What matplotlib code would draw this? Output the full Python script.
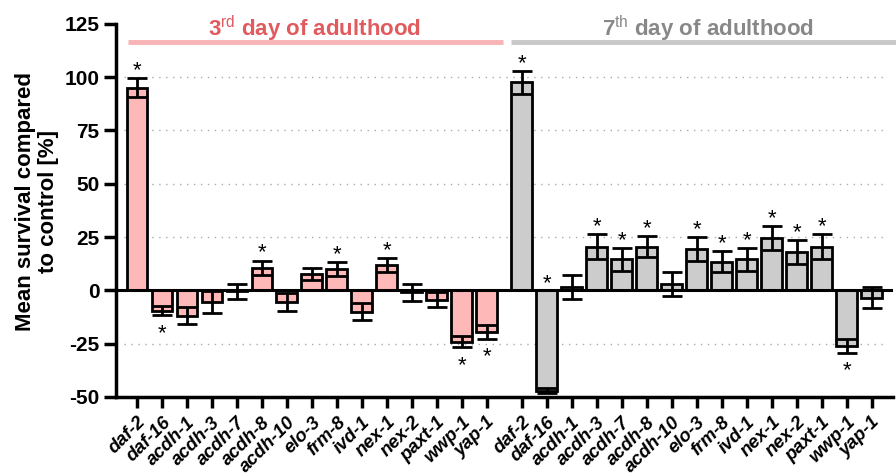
import numpy as np
import matplotlib
matplotlib.use("Agg")
import matplotlib.pyplot as plt

plt.rcParams['font.family'] = 'Liberation Sans'
plt.rcParams['axes.unicode_minus'] = False
plt.rcParams['mathtext.fontset'] = 'custom'
plt.rcParams['mathtext.rm'] = 'Liberation Sans'
plt.rcParams['mathtext.bf'] = 'Liberation Sans:bold'

genes = ['daf-2', 'daf-16', 'acdh-1', 'acdh-3', 'acdh-7', 'acdh-8', 'acdh-10',
         'elo-3', 'frm-8', 'ivd-1', 'nex-1', 'nex-2', 'paxt-1', 'wwp-1', 'yap-1']

# day 3 of adulthood
day3_mean = [95, -9.5, -12, -5.5, -0.5, 10.5, -5.5, 7.5, 10, -10, 12, -1, -4.5, -24, -19.5]
day3_err = [4.5, 2.2, 4, 5, 3.5, 3.5, 4.2, 2.8, 3.2, 4, 3.3, 4, 3.5, 2.7, 3.2]
day3_sig = [1, 1, 0, 0, 0, 1, 0, 0, 1, 0, 1, 0, 0, 1, 1]

# day 7 of adulthood
day7_mean = [97.5, -47, 1.5, 20.5, 14.5, 20.5, 3, 19.5, 13.5, 14.5, 24.5, 18, 20.5, -26, -3.5]
day7_err = [5.3, 1, 5.7, 5.7, 5.4, 5, 5.5, 5.6, 5, 5.3, 5.5, 5.7, 5.7, 3.3, 5]
day7_sig = [1, 1, 0, 1, 1, 1, 0, 1, 1, 1, 1, 1, 1, 1, 0]

pink = '#FFB8B8'
grey = '#CCCCCC'

fig = plt.figure(figsize=(8.96, 4.76), dpi=100)
ax = fig.add_axes([0.1295, 0.166, 0.867, 0.784])

x3 = np.arange(len(genes))
x7 = np.arange(len(genes)) + 15.4

for xs, means, errs, sigs, col in [(x3, day3_mean, day3_err, day3_sig, pink),
                                   (x7, day7_mean, day7_err, day7_sig, grey)]:
    ax.bar(xs, means, width=0.82, color=col, edgecolor='black', linewidth=2, zorder=3)
    ax.errorbar(xs, means, yerr=errs, fmt='none', ecolor='black', elinewidth=2,
                capsize=7, capthick=2, zorder=4)
    # significance stars
    for xi, m, e, s in zip(xs, means, errs, sigs):
        if not s:
            continue
        if m >= 0:
            ys = m + e + 6
        elif m - e - 6 < -45:
            ys = 5.5
        else:
            ys = m - e - 6
        ax.text(xi, ys - 2.5, '*', ha='center', va='center', fontsize=16,
                zorder=5)

ax.axhline(0, color='black', linewidth=2.2, zorder=4)

for yv in [100, 75, 50, 25, -25]:
    ax.axhline(yv, color='#AAAAAA', linewidth=1, linestyle=(0, (1, 4)), zorder=1,
               xmin=0.01, xmax=0.99)

ax.set_ylim(-50, 125)
ax.set_xlim(-0.83, 30.25)
ax.set_yticks([125, 100, 75, 50, 25, 0, -25, -50])
ax.set_xticks(np.concatenate([x3, x7]))
ax.set_xticklabels(genes + genes, rotation=45, ha='right', rotation_mode='anchor',
                   fontsize=13.5, fontweight='bold', fontstyle='italic')
for lab in ax.get_yticklabels():
    lab.set_fontweight('bold')
    lab.set_fontsize(15)

ax.spines['top'].set_visible(False)
ax.spines['right'].set_visible(False)
ax.spines['left'].set_linewidth(2.5)
ax.spines['bottom'].set_linewidth(2.5)
ax.tick_params(axis='y', length=9, width=2.5, pad=3)
ax.tick_params(axis='x', length=8, width=2.5, pad=4)

ax.set_ylabel('Mean survival compared\nto control [%]', fontsize=16,
              fontweight='bold', linespacing=1.1)
ax.yaxis.set_label_coords(-0.0735, 0.525)

# group headers
ax.plot([-0.35, 14.65], [116.6, 116.6], color='#F7B3B5', linewidth=3.5,
        clip_on=False, solid_capstyle='butt')
ax.plot([14.98, 30.4], [116.6, 116.6], color='#C9C9C9', linewidth=3.5,
        clip_on=False, solid_capstyle='butt')
ax.text(7.1, 122.5, r'3$^{\mathrm{rd}}$ day of adulthood', ha='center', va='center',
        fontsize=16, fontweight='bold', color='#E05A5E', clip_on=False)
ax.text(22.85, 122.5, r'7$^{\mathrm{th}}$ day of adulthood', ha='center', va='center',
        fontsize=16, fontweight='bold', color='#888888', clip_on=False)

fig.savefig('out.png', dpi=100, facecolor='white')
